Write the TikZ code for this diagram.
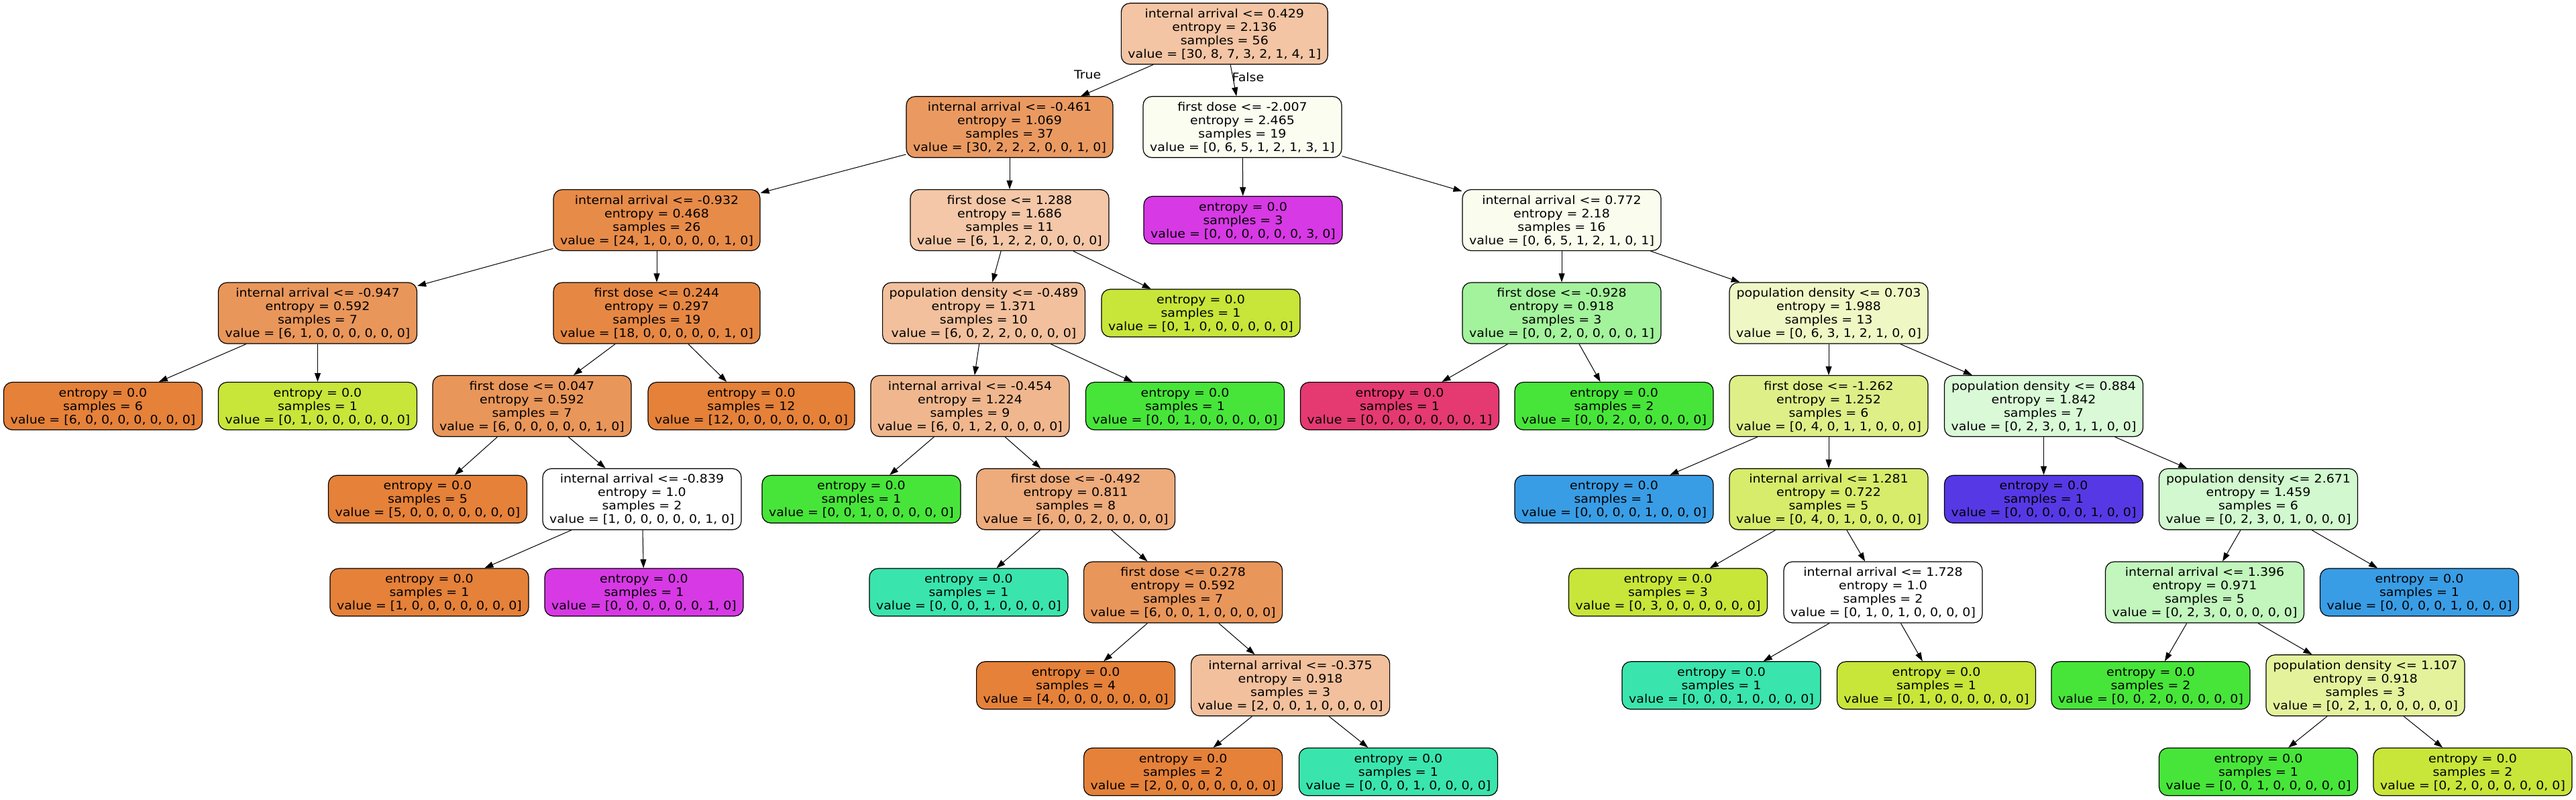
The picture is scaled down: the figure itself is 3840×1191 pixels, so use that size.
\documentclass[tikz,border=0pt]{standalone}
\usepackage{fontspec}
\newfontfamily\treefont[FakeStretch=1.085]{DejaVu Sans}
\usetikzlibrary{arrows.meta}
% class colours
\definecolor{kor}{RGB}{229,129,57}
\definecolor{kyg}{RGB}{200,229,57}
\definecolor{kgr}{RGB}{71,229,57}
\definecolor{kte}{RGB}{57,229,172}
\definecolor{kbl}{RGB}{57,157,229}
\definecolor{kin}{RGB}{86,57,229}
\definecolor{kpu}{RGB}{215,57,229}
\definecolor{kre}{RGB}{229,57,114}
% mixed colours of split nodes
\definecolor{froot}{RGB}{243,197,164}
\definecolor{fna}{RGB}{234,154,97}
\definecolor{fnb}{RGB}{251,253,241}
\definecolor{fnc}{RGB}{231,139,73}
\definecolor{fnd}{RGB}{243,199,167}
\definecolor{fne}{RGB}{250,253,237}
\definecolor{fnf}{RGB}{233,150,90}
\definecolor{fng}{RGB}{230,136,68}
\definecolor{fnh}{RGB}{242,192,156}
\definecolor{fni}{RGB}{163,242,156}
\definecolor{fnj}{RGB}{239,247,196}
\definecolor{fnk}{RGB}{240,183,142}
\definecolor{fnl}{RGB}{222,239,136}
\definecolor{fnm}{RGB}{218,250,215}
\definecolor{fnn}{RGB}{238,171,123}
\definecolor{fno}{RGB}{214,236,106}
\definecolor{fnp}{RGB}{209,248,206}
\definecolor{fnq}{RGB}{194,246,189}
\definecolor{fnr}{RGB}{228,242,156}
\newcommand\SL{\rule[-4pt]{0pt}{20pt}}
\newcommand\fourl[4]{\SL#1\\\SL#2\\\SL#3\\\SL#4}
\newcommand\threel[3]{\SL#1\\\SL#2\\\SL#3}
\tikzset{
  tnode/.style={draw=black, line width=1.2pt, rounded corners=13pt, align=center,
    inner xsep=10pt, inner ysep=0pt, minimum width=296pt,
    font={\treefont\fontsize{17.5}{20}\selectfont}},
  split/.style={tnode, minimum height=91pt},
  leaf/.style={tnode, minimum height=71pt},
  edge/.style={line width=1pt, -{Triangle[length=13pt,width=9pt]}},
  elabel/.style={font={\treefont\fontsize{17.5}{20}\selectfont}, inner sep=0pt},
}
\begin{document}
\begin{tikzpicture}[x=1pt,y=-1pt]
\useasboundingbox[fill=white] (0,0) rectangle (3840,1191);
% row 0
\node[split, fill=froot] (root) at (1825.3,50.3) {\fourl{internal arrival <= 0.429}{entropy = 2.136}{samples = 56}{value = [30, 8, 7, 3, 2, 1, 4, 1]}};
% row 1
\node[split, fill=fna] (n1) at (1505,189.3) {\fourl{internal arrival <= -0.461}{entropy = 1.069}{samples = 37}{value = [30, 2, 2, 2, 0, 0, 1, 0]}};
\node[split, fill=fnb] (n2) at (1852,189.3) {\fourl{first dose <= -2.007}{entropy = 2.465}{samples = 19}{value = [0, 6, 5, 1, 2, 1, 3, 1]}};
% row 2
\node[split, fill=fnc] (n3) at (979,328) {\fourl{internal arrival <= -0.932}{entropy = 0.468}{samples = 26}{value = [24, 1, 0, 0, 0, 0, 1, 0]}};
\node[split, fill=fnd] (n4) at (1505,328) {\fourl{first dose <= 1.288}{entropy = 1.686}{samples = 11}{value = [6, 1, 2, 2, 0, 0, 0, 0]}};
\node[leaf, fill=kpu] (l1) at (1853,328) {\threel{entropy = 0.0}{samples = 3}{value = [0, 0, 0, 0, 0, 0, 3, 0]}};
\node[split, fill=fne] (n5) at (2328,328) {\fourl{internal arrival <= 0.772}{entropy = 2.18}{samples = 16}{value = [0, 6, 5, 1, 2, 1, 0, 1]}};
% row 3
\node[split, fill=fnf] (n6) at (473.5,466.5) {\fourl{internal arrival <= -0.947}{entropy = 0.592}{samples = 7}{value = [6, 1, 0, 0, 0, 0, 0, 0]}};
\node[split, fill=fng] (n7) at (979,466.5) {\fourl{first dose <= 0.244}{entropy = 0.297}{samples = 19}{value = [18, 0, 0, 0, 0, 0, 1, 0]}};
\node[split, fill=fnh] (n8) at (1466.5,466.5) {\fourl{population density <= -0.489}{entropy = 1.371}{samples = 10}{value = [6, 0, 2, 2, 0, 0, 0, 0]}};
\node[leaf, fill=kyg] (l2) at (1790,466.5) {\threel{entropy = 0.0}{samples = 1}{value = [0, 1, 0, 0, 0, 0, 0, 0]}};
\node[split, fill=fni] (n9) at (2328,466.5) {\fourl{first dose <= -0.928}{entropy = 0.918}{samples = 3}{value = [0, 0, 2, 0, 0, 0, 0, 1]}};
\node[split, fill=fnj] (n10) at (2726,466.5) {\fourl{population density <= 0.703}{entropy = 1.988}{samples = 13}{value = [0, 6, 3, 1, 2, 1, 0, 0]}};
% row 4
\node[leaf, fill=kor] (l3) at (153.5,605) {\threel{entropy = 0.0}{samples = 6}{value = [6, 0, 0, 0, 0, 0, 0, 0]}};
\node[leaf, fill=kyg] (l4) at (473.5,605) {\threel{entropy = 0.0}{samples = 1}{value = [0, 1, 0, 0, 0, 0, 0, 0]}};
\node[split, fill=fnf] (n11) at (793,605) {\fourl{first dose <= 0.047}{entropy = 0.592}{samples = 7}{value = [6, 0, 0, 0, 0, 0, 1, 0]}};
\node[leaf, fill=kor] (l5) at (1120,605) {\threel{entropy = 0.0}{samples = 12}{value = [12, 0, 0, 0, 0, 0, 0, 0]}};
\node[split, fill=fnk] (n12) at (1446,605) {\fourl{internal arrival <= -0.454}{entropy = 1.224}{samples = 9}{value = [6, 0, 1, 2, 0, 0, 0, 0]}};
\node[leaf, fill=kgr] (l6) at (1766.5,605) {\threel{entropy = 0.0}{samples = 1}{value = [0, 0, 1, 0, 0, 0, 0, 0]}};
\node[leaf, fill=kre] (l7) at (2086.5,605) {\threel{entropy = 0.0}{samples = 1}{value = [0, 0, 0, 0, 0, 0, 0, 1]}};
\node[leaf, fill=kgr] (l8) at (2406,605) {\threel{entropy = 0.0}{samples = 2}{value = [0, 0, 2, 0, 0, 0, 0, 0]}};
\node[split, fill=fnl] (n13) at (2726,605) {\fourl{first dose <= -1.262}{entropy = 1.252}{samples = 6}{value = [0, 4, 0, 1, 1, 0, 0, 0]}};
\node[split, fill=fnm] (n14) at (3046.5,605) {\fourl{population density <= 0.884}{entropy = 1.842}{samples = 7}{value = [0, 2, 3, 0, 1, 1, 0, 0]}};
% row 5
\node[leaf, fill=kor] (l9) at (637.5,743.8) {\threel{entropy = 0.0}{samples = 5}{value = [5, 0, 0, 0, 0, 0, 0, 0]}};
\node[split, fill=white] (n15) at (957,743.8) {\fourl{internal arrival <= -0.839}{entropy = 1.0}{samples = 2}{value = [1, 0, 0, 0, 0, 0, 1, 0]}};
\node[leaf, fill=kgr] (l10) at (1284,743.8) {\threel{entropy = 0.0}{samples = 1}{value = [0, 0, 1, 0, 0, 0, 0, 0]}};
\node[split, fill=fnn] (n16) at (1603.6,743.8) {\fourl{first dose <= -0.492}{entropy = 0.811}{samples = 8}{value = [6, 0, 0, 2, 0, 0, 0, 0]}};
\node[leaf, fill=kbl] (l11) at (2406,743.8) {\threel{entropy = 0.0}{samples = 1}{value = [0, 0, 0, 0, 1, 0, 0, 0]}};
\node[split, fill=fno] (n17) at (2726,743.8) {\fourl{internal arrival <= 1.281}{entropy = 0.722}{samples = 5}{value = [0, 4, 0, 1, 0, 0, 0, 0]}};
\node[leaf, fill=kin] (l12) at (3046.5,743.8) {\threel{entropy = 0.0}{samples = 1}{value = [0, 0, 0, 0, 0, 1, 0, 0]}};
\node[split, fill=fnp] (n18) at (3366.5,743.8) {\fourl{population density <= 2.671}{entropy = 1.459}{samples = 6}{value = [0, 2, 3, 0, 1, 0, 0, 0]}};
% row 6
\node[leaf, fill=kor] (l13) at (640,882.5) {\threel{entropy = 0.0}{samples = 1}{value = [1, 0, 0, 0, 0, 0, 0, 0]}};
\node[leaf, fill=kpu] (l14) at (960,882.5) {\threel{entropy = 0.0}{samples = 1}{value = [0, 0, 0, 0, 0, 0, 1, 0]}};
\node[leaf, fill=kte] (l15) at (1444,882.5) {\threel{entropy = 0.0}{samples = 1}{value = [0, 0, 0, 1, 0, 0, 0, 0]}};
\node[split, fill=fnf] (n19) at (1763.6,882.5) {\fourl{first dose <= 0.278}{entropy = 0.592}{samples = 7}{value = [6, 0, 0, 1, 0, 0, 0, 0]}};
\node[leaf, fill=kyg] (l16) at (2486.5,882.5) {\threel{entropy = 0.0}{samples = 3}{value = [0, 3, 0, 0, 0, 0, 0, 0]}};
\node[split, fill=white] (n20) at (2807,882.5) {\fourl{internal arrival <= 1.728}{entropy = 1.0}{samples = 2}{value = [0, 1, 0, 1, 0, 0, 0, 0]}};
\node[split, fill=fnq] (n21) at (3286.5,882.5) {\fourl{internal arrival <= 1.396}{entropy = 0.971}{samples = 5}{value = [0, 2, 3, 0, 0, 0, 0, 0]}};
\node[leaf, fill=kbl] (l17) at (3606.5,882.5) {\threel{entropy = 0.0}{samples = 1}{value = [0, 0, 0, 0, 1, 0, 0, 0]}};
% row 7
\node[leaf, fill=kor] (l18) at (1603.6,1021.3) {\threel{entropy = 0.0}{samples = 4}{value = [4, 0, 0, 0, 0, 0, 0, 0]}};
\node[split, fill=fnh] (n22) at (1923.6,1021.3) {\fourl{internal arrival <= -0.375}{entropy = 0.918}{samples = 3}{value = [2, 0, 0, 1, 0, 0, 0, 0]}};
\node[leaf, fill=kte] (l19) at (2566,1021.3) {\threel{entropy = 0.0}{samples = 1}{value = [0, 0, 0, 1, 0, 0, 0, 0]}};
\node[leaf, fill=kyg] (l20) at (2886.5,1021.3) {\threel{entropy = 0.0}{samples = 1}{value = [0, 1, 0, 0, 0, 0, 0, 0]}};
\node[leaf, fill=kgr] (l21) at (3206,1021.3) {\threel{entropy = 0.0}{samples = 2}{value = [0, 0, 2, 0, 0, 0, 0, 0]}};
\node[split, fill=fnr] (n23) at (3526,1021.3) {\fourl{population density <= 1.107}{entropy = 0.918}{samples = 3}{value = [0, 2, 1, 0, 0, 0, 0, 0]}};
% row 8
\node[leaf, fill=kor] (l22) at (1763.6,1150) {\threel{entropy = 0.0}{samples = 2}{value = [2, 0, 0, 0, 0, 0, 0, 0]}};
\node[leaf, fill=kte] (l23) at (2084.4,1150) {\threel{entropy = 0.0}{samples = 1}{value = [0, 0, 0, 1, 0, 0, 0, 0]}};
\node[leaf, fill=kgr] (l24) at (3366.5,1150) {\threel{entropy = 0.0}{samples = 1}{value = [0, 0, 1, 0, 0, 0, 0, 0]}};
\node[leaf, fill=kyg] (l25) at (3686,1150) {\threel{entropy = 0.0}{samples = 2}{value = [0, 2, 0, 0, 0, 0, 0, 0]}};
% edge labels
\node[elabel] (ltrue) at (1621.2,111.7) {True};
\node[elabel] (lfalse) at (1860.4,115) {False};
% edges
\foreach \a/\b in {root/n1, root/n2, n1/n3, n1/n4, n2/l1, n2/n5, n3/n6, n3/n7,
  n4/n8, n4/l2, n5/n9, n5/n10, n6/l3, n6/l4, n7/n11, n7/l5, n8/n12, n8/l6,
  n9/l7, n9/l8, n10/n13, n10/n14, n11/l9, n11/n15, n12/l10, n12/n16,
  n13/l11, n13/n17, n14/l12, n14/n18, n15/l13, n15/l14, n16/l15, n16/n19,
  n17/l16, n17/n20, n18/n21, n18/l17, n19/l18, n19/n22, n20/l19, n20/l20,
  n21/l21, n21/n23, n22/l22, n22/l23, n23/l24, n23/l25}
  \draw[edge] (\a) -- (\b);
\end{tikzpicture}
\end{document}
